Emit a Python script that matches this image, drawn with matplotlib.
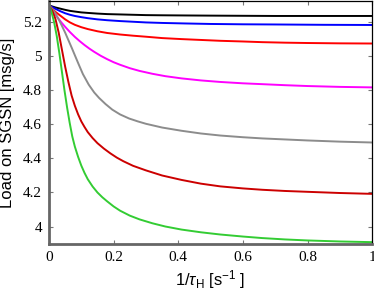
import matplotlib
matplotlib.use("Agg")
import matplotlib.pyplot as plt

# values (x = 1/tau_H, y = load on SGSN)
x_black = [0, 0.01, 0.02, 0.035, 0.05, 0.065, 0.08, 0.1, 0.12, 0.15, 0.18, 0.22, 0.26, 0.3, 0.35, 0.42, 0.5, 0.6, 0.7, 0.85, 1.0]
y_black = [5.30, 5.294, 5.288, 5.281, 5.274, 5.268, 5.264, 5.259, 5.256, 5.252, 5.249, 5.247, 5.245, 5.243, 5.242, 5.241, 5.240, 5.239, 5.238, 5.238, 5.238]

x_blue = [0, 0.01, 0.02, 0.035, 0.05, 0.065, 0.08, 0.1, 0.12, 0.15, 0.18, 0.22, 0.26, 0.3, 0.35, 0.42, 0.5, 0.6, 0.7, 0.85, 1.0]
y_blue = [5.30, 5.29, 5.28, 5.266, 5.254, 5.245, 5.238, 5.231, 5.225, 5.218, 5.213, 5.208, 5.204, 5.200, 5.197, 5.194, 5.191, 5.189, 5.188, 5.186, 5.185]

x_red = [0, 0.01, 0.02, 0.035, 0.05, 0.065, 0.08, 0.1, 0.12, 0.15, 0.18, 0.22, 0.26, 0.3, 0.35, 0.41, 0.47, 0.53, 0.6, 0.66, 0.73, 0.8, 0.9, 1.0]
y_red = [5.30, 5.28, 5.262, 5.24, 5.218, 5.2, 5.186, 5.172, 5.161, 5.148, 5.138, 5.129, 5.122, 5.116, 5.108, 5.102, 5.097, 5.092, 5.088, 5.084, 5.081, 5.079, 5.077, 5.076]

x_magenta = [0, 0.01, 0.02, 0.03, 0.04, 0.05, 0.065, 0.08, 0.095, 0.11, 0.125, 0.14, 0.16, 0.18, 0.2, 0.22, 0.25, 0.28, 0.32, 0.36, 0.41, 0.47, 0.53, 0.6, 0.66, 0.73, 0.8, 0.9, 1.0]
y_magenta = [5.30, 5.272, 5.245, 5.22, 5.196, 5.174, 5.143, 5.115, 5.09, 5.067, 5.046, 5.027, 5.004, 4.984, 4.966, 4.951, 4.931, 4.915, 4.898, 4.884, 4.871, 4.859, 4.85, 4.842, 4.837, 4.831, 4.826, 4.821, 4.818]

x_gray = [0, 0.01, 0.02, 0.03, 0.04, 0.05, 0.06, 0.071, 0.082, 0.092, 0.105, 0.123, 0.14, 0.155, 0.175, 0.196, 0.22, 0.248, 0.275, 0.30, 0.35, 0.41, 0.47, 0.53, 0.6, 0.66, 0.73, 0.8, 0.9, 1.0]
y_gray = [5.30, 5.28, 5.252, 5.218, 5.18, 5.14, 5.096, 5.048, 4.998, 4.953, 4.896, 4.834, 4.788, 4.756, 4.72, 4.687, 4.659, 4.635, 4.618, 4.604, 4.582, 4.563, 4.547, 4.535, 4.525, 4.518, 4.512, 4.506, 4.499, 4.494]

x_darkred = [0, 0.01, 0.02, 0.03, 0.04, 0.05, 0.06, 0.07, 0.08, 0.09, 0.1, 0.11, 0.12, 0.135, 0.15, 0.17, 0.19, 0.21, 0.23, 0.26, 0.3, 0.35, 0.41, 0.47, 0.53, 0.6, 0.66, 0.73, 0.8, 0.9, 1.0]
y_darkred = [5.30, 5.27, 5.22, 5.14, 5.04, 4.94, 4.85, 4.77, 4.71, 4.66, 4.618, 4.585, 4.555, 4.52, 4.49, 4.458, 4.43, 4.405, 4.384, 4.357, 4.33, 4.3, 4.274, 4.252, 4.236, 4.224, 4.216, 4.209, 4.204, 4.197, 4.192]

x_green = [0, 0.008, 0.016, 0.024, 0.032, 0.04, 0.048, 0.056, 0.064, 0.072, 0.08, 0.09, 0.1, 0.11, 0.12, 0.135, 0.15, 0.165, 0.18, 0.2, 0.22, 0.25, 0.28, 0.32, 0.36, 0.41, 0.47, 0.53, 0.6, 0.66, 0.73, 0.8, 0.9, 1.0]
y_green = [5.31, 5.26, 5.2, 5.12, 5.02, 4.91, 4.8, 4.7, 4.61, 4.53, 4.47, 4.41, 4.358, 4.315, 4.278, 4.235, 4.2, 4.172, 4.148, 4.118, 4.093, 4.064, 4.042, 4.019, 4.0, 3.982, 3.966, 3.953, 3.941, 3.932, 3.924, 3.918, 3.912, 3.908]

xticks = [0, 0.2, 0.4, 0.6, 0.8, 1]
xticklabels = ["0", "0.2", "0.4", "0.6", "0.8", "1"]
yticks = [4, 4.2, 4.4, 4.6, 4.8, 5, 5.2]
yticklabels = ["4", "4.2", "4.4", "4.6", "4.8", "5", "5.2"]

plt.rcParams["mathtext.fontset"] = "custom"
plt.rcParams["mathtext.rm"] = "Liberation Sans"
plt.rcParams["mathtext.it"] = "Liberation Sans:italic"

fig = plt.figure(figsize=(3.74, 2.93), dpi=100)
ax = fig.add_axes([0.131, 0.166, 0.864, 0.830])

lw = 1.4
ax.plot(x_black, y_black, color="black", lw=lw)
ax.plot(x_blue, y_blue, color="#0000ff", lw=lw)
ax.plot(x_red, y_red, color="#ff0000", lw=lw)
ax.plot(x_magenta, y_magenta, color="#ff00ff", lw=lw)
ax.plot(x_gray, y_gray, color="#8c8c8c", lw=lw)
ax.plot(x_darkred, y_darkred, color="#cc0000", lw=lw)
ax.plot(x_green, y_green, color="#33cc33", lw=lw)

ax.set_xlim(0, 1)
ax.set_ylim(3.895, 5.325)
ax.set_xticks(xticks)
ax.set_xticklabels(xticklabels, family="Liberation Serif", fontsize=11)
ax.set_yticks(yticks)
ax.set_yticklabels(yticklabels, family="Liberation Serif", fontsize=11)
ax.tick_params(direction="in", length=3, width=0.8, color="#777777",
               top=True, right=True, pad=5)

for side in ["left", "bottom"]:
    ax.spines[side].set_color("#666666")
    ax.spines[side].set_linewidth(2)
for side in ["top", "right"]:
    ax.spines[side].set_color("black")
    ax.spines[side].set_linewidth(0.9)

ax.set_xlabel(r"1/$\tau_\mathrm{H}$ [s$^\mathrm{-1}$ ]", family="Liberation Sans", fontsize=12, labelpad=3)
ax.set_ylabel("Load on SGSN [msg/s]", family="Liberation Sans", fontsize=12, labelpad=6)

fig.savefig("out.png", dpi=100)
